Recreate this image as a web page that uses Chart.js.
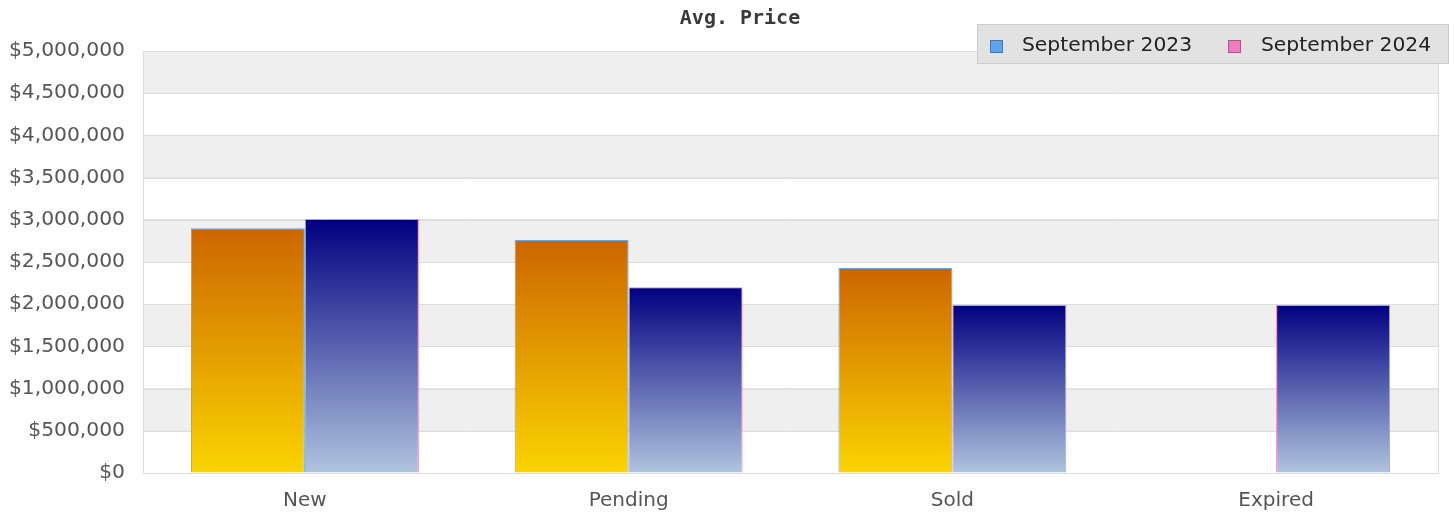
<!DOCTYPE html>
<html>
<head>
<meta charset="utf-8">
<script src="https://cdn.jsdelivr.net/npm/chart.js@4/dist/chart.umd.min.js"></script>
<style>
html,body{margin:0;padding:0;background:#fff;}
canvas{display:block;}
</style>
</head>
<body>
<canvas id="c" width="1455" height="516"></canvas>
<script>
const categories = ["New", "Pending", "Sold", "Expired"];
const seriesNames = ["September 2023", "September 2024"];
const sep2023 = [2900000, 2760000, 2430000, null];
const sep2024 = [3010000, 2200000, 1990000, 1990000];
const yTicks = [0, 500000, 1000000, 1500000, 2000000, 2500000, 3000000, 3500000, 4000000, 4500000, 5000000];
const chartTitle = "Avg. Price";

const FONT = "'DejaVu Sans', sans-serif";

function gradFill(top, bottom, fallback) {
  return function(ctx) {
    const chart = ctx.chart;
    if (!chart.chartArea || ctx.type !== 'data' || ctx.raw == null) return fallback;
    const y = chart.scales.y;
    const yt = y.getPixelForValue(ctx.raw);
    const yb = y.getPixelForValue(0);
    if (!isFinite(yt) || !isFinite(yb) || yt === yb) return fallback;
    const g = chart.ctx.createLinearGradient(0, yt, 0, yb);
    g.addColorStop(0, top);
    g.addColorStop(1, bottom);
    return g;
  };
}

const bandsPlugin = {
  id: 'bands',
  beforeDatasetsDraw(chart) {
    const {ctx, chartArea: a, scales: {y}} = chart;
    ctx.save();
    const ticks = y.ticks.map(t => t.value).sort((p, q) => q - p);
    for (let i = 0; i < ticks.length - 1; i++) {
      if (i % 2 === 0) {
        const y1 = y.getPixelForValue(ticks[i]);
        const y2 = y.getPixelForValue(ticks[i + 1]);
        ctx.fillStyle = '#efefef';
        ctx.fillRect(a.left, y1, a.right - a.left, y2 - y1);
      }
    }
    ctx.strokeStyle = '#dcdcdc';
    ctx.lineWidth = 1;
    for (const v of ticks) {
      const p = Math.round(y.getPixelForValue(v)) + 0.5;
      ctx.beginPath();
      ctx.moveTo(a.left, p);
      ctx.lineTo(a.right, p);
      ctx.stroke();
    }
    ctx.strokeRect(Math.round(a.left) + 0.5, Math.round(a.top) + 0.5, Math.round(a.right - a.left), Math.round(a.bottom - a.top));
    ctx.restore();
  }
};

const overlayPlugin = {
  id: 'overlay',
  afterDraw(chart) {
    const ctx = chart.ctx;
    ctx.save();
    ctx.font = "bold 20px 'DejaVu Sans Mono', monospace";
    ctx.fillStyle = '#3a3a3a';
    ctx.textAlign = 'center';
    ctx.textBaseline = 'middle';
    ctx.fillText(chartTitle, 740, 19);
    ctx.fillStyle = 'rgba(224,224,224,0.95)';
    ctx.fillRect(977, 24, 472, 40);
    ctx.strokeStyle = '#cccccc';
    ctx.lineWidth = 1;
    ctx.strokeRect(977.5, 24.5, 471, 39);
    const items = [
      {x: 990, tx: 1022, fill: '#5aa5ee', stroke: '#4a78a8'},
      {x: 1228, tx: 1261, fill: '#f07cc0', stroke: '#a85a88'}
    ];
    ctx.font = "20.3px " + FONT;
    ctx.textAlign = 'left';
    ctx.textBaseline = 'middle';
    chart.data.datasets.forEach((ds, i) => {
      const it = items[i];
      ctx.fillStyle = it.fill;
      ctx.fillRect(it.x, 40, 13, 13);
      ctx.strokeStyle = it.stroke;
      ctx.strokeRect(it.x + 0.5, 40.5, 12, 12);
      ctx.fillStyle = '#222';
      ctx.fillText(ds.label, it.tx, 46);
    });
    ctx.restore();
  }
};

new Chart(document.getElementById('c'), {
  type: 'bar',
  data: {
    labels: categories,
    datasets: [
      {
        label: seriesNames[0],
        data: sep2023,
        backgroundColor: gradFill('#cc6600', '#fad400', '#e09000'),
        borderColor: '#6aa8e8',
        borderWidth: 1,
        categoryPercentage: 0.704,
        barPercentage: 1.0
      },
      {
        label: seriesNames[1],
        data: sep2024,
        backgroundColor: gradFill('#000080', '#b0c4de', '#5060a0'),
        borderColor: '#f080c0',
        borderWidth: 1,
        categoryPercentage: 0.704,
        barPercentage: 1.0
      }
    ]
  },
  options: {
    responsive: false,
    animation: false,
    devicePixelRatio: 1,
    layout: {padding: {top: 51, right: 17, left: 0, bottom: 0}},
    plugins: {
      legend: {display: false},
      title: {display: false},
      tooltip: {enabled: false}
    },
    scales: {
      x: {
        grid: {display: false, drawTicks: false},
        border: {display: true, color: '#dcdcdc'},
        ticks: {color: '#555', font: {family: FONT, size: 20}, padding: 16},
        afterFit(s) { s.height = 43; }
      },
      y: {
        min: 0,
        max: 5000000,
        afterBuildTicks(s) { s.ticks = yTicks.map(v => ({value: v})); },
        grid: {color: '#dcdcdc', drawTicks: false},
        border: {display: true, color: '#dcdcdc'},
        ticks: {
          color: '#555',
          font: {family: FONT, size: 20.3},
          padding: 18,
          callback: v => '$' + Number(v).toLocaleString('en-US')
        },
        afterFit(s) { s.width = 143; }
      }
    }
  },
  plugins: [bandsPlugin, overlayPlugin]
});
</script>
</body>
</html>
